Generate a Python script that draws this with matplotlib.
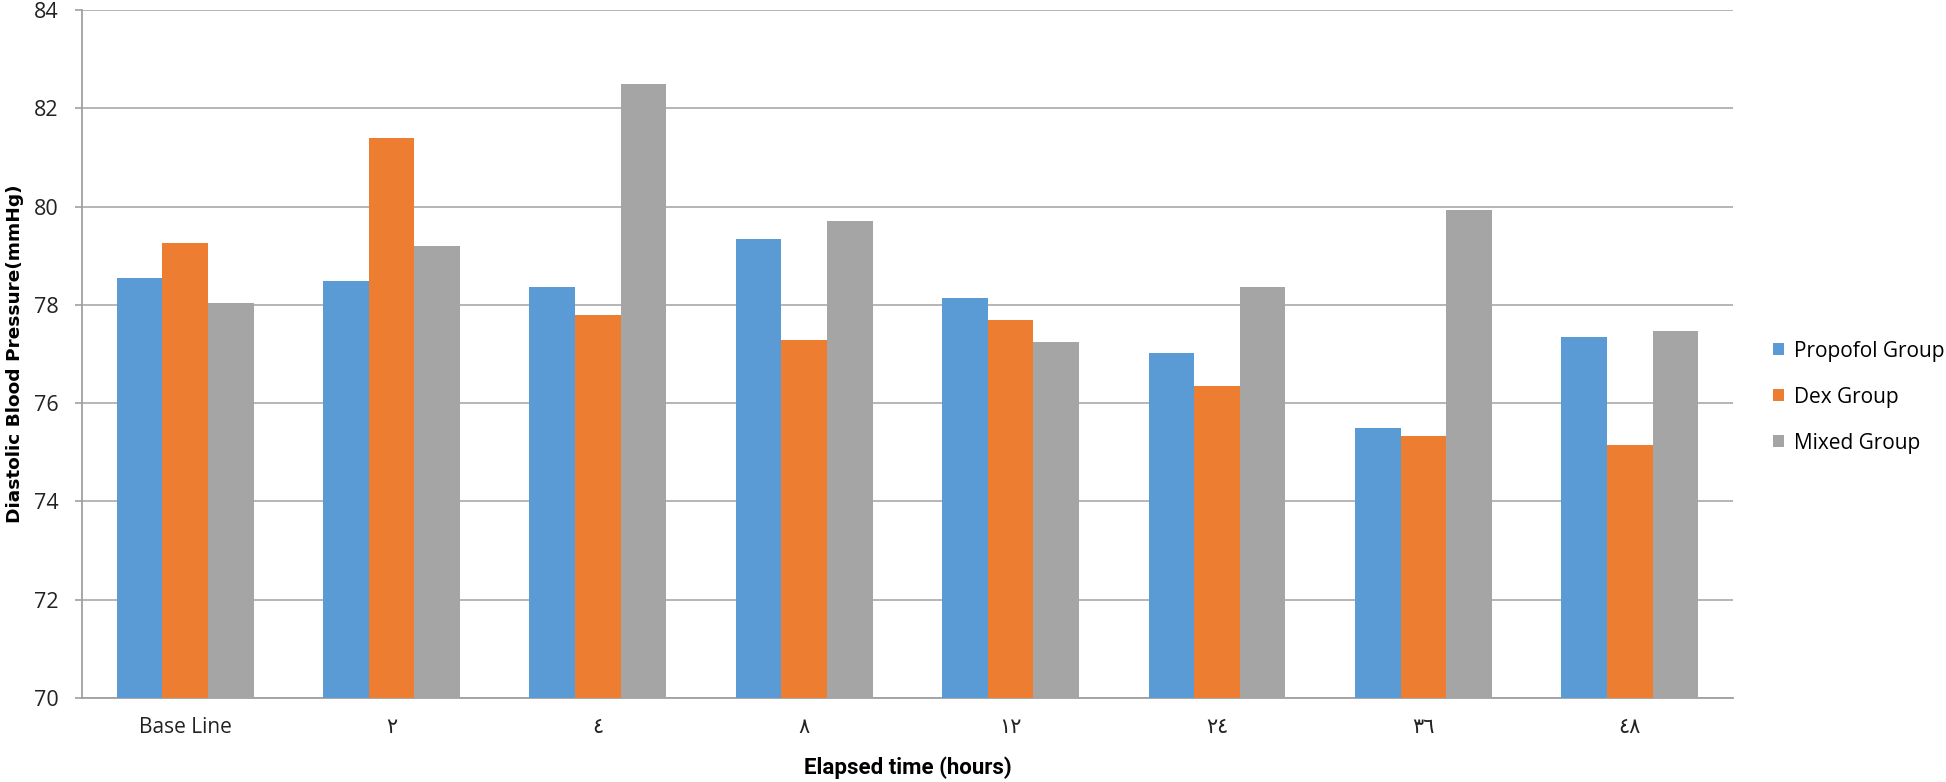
import matplotlib
matplotlib.use("Agg")
import matplotlib.pyplot as plt
import numpy as np

categories = ["Base Line", "٢", "٤", "٨", "١٢", "٢٤", "٣٦", "٤٨"]
propofol = [78.55, 78.49, 78.36, 79.34, 78.14, 77.03, 75.50, 77.34]
dex = [79.25, 81.40, 77.79, 77.29, 77.69, 76.35, 75.33, 75.14]
mixed = [78.04, 79.20, 82.50, 79.70, 77.24, 78.36, 79.93, 77.47]
series_names = ["Propofol Group", "Dex Group", "Mixed Group"]
colors = ["#5B9BD5", "#ED7D31", "#A5A5A5"]
yticks = [70, 72, 74, 76, 78, 80, 82, 84]

fig = plt.figure(figsize=(19.46, 7.82), dpi=100)
ax = fig.add_axes([0.0421, 0.1074, 0.8484, 0.8798])

x = np.arange(len(categories))
w = 0.221
for i, (vals, name, c) in enumerate(zip([propofol, dex, mixed], series_names, colors)):
    ax.bar(x + (i - 1) * w, vals, width=w, color=c, label=name, zorder=3)

ax.set_xlim(-0.5, len(categories) - 0.5)
ax.set_ylim(70, 84)
ax.set_yticks(yticks)
ax.yaxis.grid(True, color="#b0b0b0", linewidth=1.3, zorder=0)
ax.set_axisbelow(True)

tick_font = ["Open Sans", "DejaVu Sans"]
ax.set_xticks(x)
ax.set_xticklabels(categories, fontsize=15, family=tick_font, color="#222222")
for lbl in ax.get_yticklabels():
    lbl.set_fontsize(15.5)
    lbl.set_family(tick_font)
    lbl.set_color("#222222")
ax.tick_params(axis="x", length=0, pad=14)
ax.tick_params(axis="y", length=5, width=1.2, color="#a0a0a0", pad=12)

for s in ["top", "right"]:
    ax.spines[s].set_visible(False)
for s in ["left", "bottom"]:
    ax.spines[s].set_color("#a0a0a0")
    ax.spines[s].set_linewidth(1.3)

ax.set_ylabel("Diastolic Blood Pressure(mmHg)", fontsize=13.3, fontweight="bold",
              family="DejaVu Sans", labelpad=7)
ax.set_xlabel("Elapsed time (hours)", fontsize=16, fontweight="bold",
              family=["Roboto", "DejaVu Sans"], labelpad=13)

leg = ax.legend(loc="center left", bbox_to_anchor=(1.0242, 0.4375), frameon=False,
                prop={"family": tick_font, "size": 15}, handlelength=0.55,
                handleheight=0.55, handletextpad=0.45, labelspacing=1.2,
                borderpad=0, borderaxespad=0)

fig.savefig("out.png", dpi=100)
